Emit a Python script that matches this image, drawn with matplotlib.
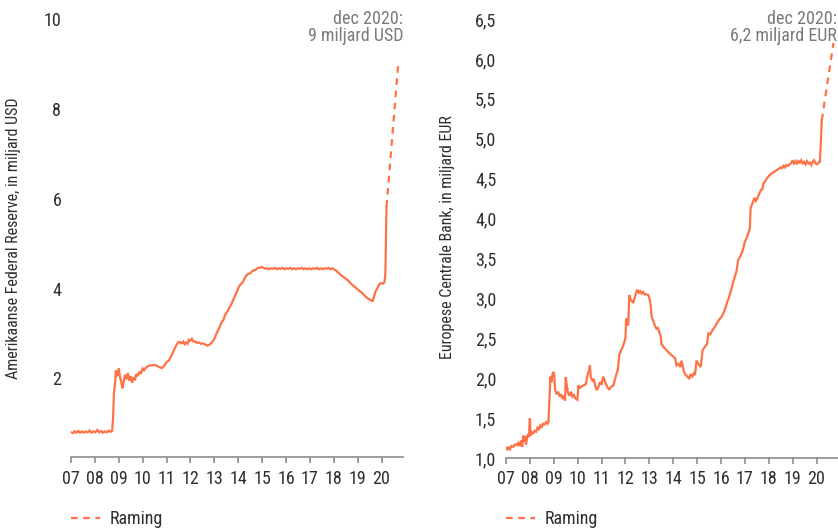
import matplotlib
matplotlib.use("Agg")
import matplotlib.pyplot as plt
from matplotlib.lines import Line2D

plt.rcParams['font.family'] = ['Roboto Condensed', 'Liberation Sans Narrow', 'Roboto', 'DejaVu Sans']

ORANGE = "#ff7245"
GREY = "#8c8c8c"
DARK = "#2e2e2e"

# Federal Reserve balance (miljard USD)
fed_t = [2007.00, 2007.08, 2007.15, 2007.22, 2007.30, 2007.38, 2007.46, 2007.54, 2007.62, 2007.70,
         2007.78, 2007.86, 2007.94, 2008.02, 2008.10, 2008.18, 2008.26, 2008.34, 2008.42, 2008.50,
         2008.58, 2008.66, 2008.72, 2008.76, 2008.80, 2008.84, 2008.88, 2008.92, 2008.96, 2009.00,
         2009.06, 2009.10, 2009.15, 2009.20, 2009.26, 2009.32, 2009.38, 2009.44, 2009.50, 2009.56,
         2009.62, 2009.68, 2009.74, 2009.80, 2009.86, 2009.92, 2010.00, 2010.06, 2010.14, 2010.22,
         2010.30, 2010.40, 2010.50, 2010.60, 2010.70, 2010.80, 2010.90, 2011.00, 2011.10, 2011.20,
         2011.30, 2011.40, 2011.48, 2011.56, 2011.62, 2011.70, 2011.76, 2011.82, 2011.88, 2011.94,
         2012.00, 2012.06, 2012.12, 2012.20, 2012.28, 2012.36, 2012.44, 2012.52, 2012.60, 2012.70,
         2012.80, 2012.90, 2013.00, 2013.08, 2013.16, 2013.24, 2013.30, 2013.38, 2013.44, 2013.52,
         2013.58, 2013.66, 2013.72, 2013.80, 2013.88, 2013.96, 2014.04, 2014.12, 2014.20, 2014.30,
         2014.40, 2014.50, 2014.58, 2014.66, 2014.74, 2014.82, 2014.90, 2014.98, 2015.06, 2015.14,
         2015.22, 2015.30, 2015.38, 2015.46, 2015.54, 2015.62, 2015.70, 2015.78, 2015.86, 2015.94,
         2016.02, 2016.10, 2016.18, 2016.26, 2016.34, 2016.42, 2016.50, 2016.58, 2016.66, 2016.74,
         2016.82, 2016.90, 2016.98, 2017.06, 2017.14, 2017.22, 2017.30, 2017.38, 2017.46, 2017.54,
         2017.62, 2017.70, 2017.78, 2017.86, 2017.94, 2018.00, 2018.10, 2018.20, 2018.30, 2018.40,
         2018.50, 2018.60, 2018.70, 2018.80, 2018.90, 2019.00, 2019.10, 2019.20, 2019.30, 2019.40,
         2019.50, 2019.60, 2019.64, 2019.70, 2019.76, 2019.82, 2019.88, 2019.94, 2020.00, 2020.06,
         2020.12, 2020.16, 2020.19, 2020.21]
fed_v = [0.80, 0.78, 0.82, 0.79, 0.83, 0.79, 0.82, 0.79, 0.82, 0.80,
         0.84, 0.79, 0.82, 0.80, 0.85, 0.80, 0.83, 0.79, 0.82, 0.80,
         0.84, 0.81, 0.83, 1.10, 1.70, 1.85, 2.18, 2.05, 2.10, 2.22,
         2.00, 1.95, 1.78, 1.90, 2.08, 1.98, 2.12, 1.95, 2.05, 1.90,
         2.02, 1.96, 2.10, 2.05, 2.15, 2.10, 2.22, 2.18, 2.24, 2.27,
         2.29, 2.29, 2.30, 2.28, 2.25, 2.23, 2.28, 2.36, 2.40, 2.50,
         2.62, 2.73, 2.80, 2.81, 2.78, 2.82, 2.76, 2.80, 2.77, 2.86,
         2.84, 2.88, 2.82, 2.82, 2.79, 2.80, 2.77, 2.78, 2.76, 2.73,
         2.75, 2.80, 2.88, 2.98, 3.08, 3.16, 3.25, 3.30, 3.40, 3.47,
         3.52, 3.60, 3.66, 3.76, 3.85, 3.95, 4.05, 4.10, 4.15, 4.26,
         4.32, 4.34, 4.38, 4.41, 4.42, 4.46, 4.46, 4.48, 4.46, 4.44,
         4.45, 4.43, 4.45, 4.44, 4.46, 4.43, 4.45, 4.44, 4.46, 4.43,
         4.45, 4.44, 4.46, 4.43, 4.45, 4.43, 4.45, 4.44, 4.46, 4.43,
         4.45, 4.43, 4.45, 4.43, 4.45, 4.44, 4.46, 4.43, 4.45, 4.43,
         4.45, 4.44, 4.46, 4.43, 4.45, 4.43, 4.40, 4.35, 4.30, 4.26,
         4.22, 4.18, 4.12, 4.07, 4.03, 3.98, 3.94, 3.90, 3.84, 3.79,
         3.76, 3.72, 3.73, 3.85, 3.95, 4.00, 4.07, 4.11, 4.12, 4.11,
         4.14, 4.30, 5.20, 5.82]
fed_fc_t = [2020.21, 2020.70]
fed_fc_v = [5.82, 9.0]

# ECB balance (miljard EUR)
ecb_t = [2007.00, 2007.05, 2007.10, 2007.16, 2007.22, 2007.30, 2007.38, 2007.46, 2007.52, 2007.58,
         2007.64, 2007.68, 2007.72, 2007.76, 2007.80, 2007.84, 2007.88, 2007.92, 2007.96, 2008.00,
         2008.03, 2008.08, 2008.14, 2008.20, 2008.26, 2008.32, 2008.38, 2008.44, 2008.50, 2008.56,
         2008.62, 2008.68, 2008.74, 2008.78, 2008.82, 2008.86, 2008.90, 2008.94, 2009.00, 2009.03,
         2009.06, 2009.12, 2009.18, 2009.24, 2009.30, 2009.36, 2009.42, 2009.47, 2009.50, 2009.55,
         2009.60, 2009.66, 2009.72, 2009.78, 2009.84, 2009.90, 2009.99, 2010.03, 2010.10, 2010.18,
         2010.26, 2010.35, 2010.42, 2010.48, 2010.51, 2010.55, 2010.62, 2010.68, 2010.72, 2010.79,
         2010.86, 2010.93, 2011.00, 2011.07, 2011.14, 2011.21, 2011.26, 2011.32, 2011.40, 2011.49,
         2011.56, 2011.63, 2011.68, 2011.74, 2011.82, 2011.91, 2012.00, 2012.03, 2012.08, 2012.12,
         2012.16, 2012.22, 2012.28, 2012.33, 2012.40, 2012.46, 2012.50, 2012.56, 2012.62, 2012.68,
         2012.74, 2012.80, 2012.88, 2012.96, 2013.02, 2013.06, 2013.10, 2013.16, 2013.23, 2013.30,
         2013.36, 2013.42, 2013.48, 2013.51, 2013.60, 2013.72, 2013.85, 2014.00, 2014.08, 2014.14,
         2014.22, 2014.30, 2014.35, 2014.40, 2014.45, 2014.52, 2014.60, 2014.67, 2014.72, 2014.80,
         2014.86, 2014.91, 2014.98, 2015.05, 2015.10, 2015.15, 2015.23, 2015.32, 2015.42, 2015.47,
         2015.55, 2015.64, 2015.74, 2015.85, 2015.94, 2016.03, 2016.14, 2016.24, 2016.34, 2016.42,
         2016.51, 2016.58, 2016.65, 2016.72, 2016.80, 2016.86, 2016.93, 2017.00, 2017.08, 2017.14,
         2017.21, 2017.24, 2017.32, 2017.40, 2017.46, 2017.52, 2017.60, 2017.68, 2017.74, 2017.77,
         2017.84, 2017.91, 2018.00, 2018.10, 2018.20, 2018.30, 2018.40, 2018.50, 2018.56, 2018.62,
         2018.68, 2018.74, 2018.81, 2018.88, 2018.95, 2019.00, 2019.06, 2019.12, 2019.18, 2019.24,
         2019.30, 2019.36, 2019.42, 2019.48, 2019.54, 2019.60, 2019.66, 2019.72, 2019.78, 2019.84,
         2019.90, 2019.96, 2020.02, 2020.08, 2020.14, 2020.19, 2020.22]
ecb_v = [1.13, 1.10, 1.14, 1.11, 1.15, 1.14, 1.17, 1.16, 1.19, 1.15,
         1.22, 1.14, 1.28, 1.20, 1.27, 1.17, 1.25, 1.30, 1.26, 1.50,
         1.28, 1.32, 1.31, 1.34, 1.33, 1.38, 1.36, 1.41, 1.39, 1.43,
         1.42, 1.45, 1.43, 1.46, 1.75, 2.02, 1.95, 2.04, 2.08, 1.98,
         1.85, 1.80, 1.83, 1.77, 1.80, 1.74, 1.78, 1.72, 2.01, 1.90,
         1.81, 1.78, 1.83, 1.77, 1.79, 1.75, 1.73, 1.91, 1.88, 1.90,
         1.91, 1.93, 2.05, 2.10, 2.16, 2.01, 1.97, 1.99, 1.93, 1.85,
         1.88, 1.95, 1.92, 2.02, 1.96, 1.91, 1.88, 1.86, 1.89, 1.91,
         1.98, 2.06, 2.10, 2.29, 2.35, 2.41, 2.50, 2.75, 2.70, 2.66,
         3.04, 2.98, 2.96, 2.95, 3.02, 3.08, 3.11, 3.07, 3.09, 3.06,
         3.08, 3.05, 3.05, 3.04, 2.98, 2.90, 2.77, 2.72, 2.66, 2.62,
         2.63, 2.58, 2.52, 2.43, 2.39, 2.35, 2.31, 2.27, 2.25, 2.16,
         2.18, 2.14, 2.22, 2.15, 2.08, 2.04, 2.02, 1.99, 2.05, 2.02,
         2.06, 2.04, 2.22, 2.18, 2.16, 2.14, 2.35, 2.39, 2.43, 2.56,
         2.55, 2.60, 2.64, 2.70, 2.74, 2.77, 2.84, 2.93, 3.02, 3.10,
         3.20, 3.27, 3.34, 3.48, 3.52, 3.56, 3.62, 3.71, 3.76, 3.81,
         3.88, 4.13, 4.19, 4.26, 4.22, 4.25, 4.31, 4.36, 4.37, 4.44,
         4.46, 4.50, 4.53, 4.56, 4.58, 4.60, 4.62, 4.64, 4.63, 4.66,
         4.64, 4.67, 4.66, 4.68, 4.70, 4.73, 4.69, 4.72, 4.68, 4.72,
         4.70, 4.73, 4.69, 4.71, 4.68, 4.72, 4.69, 4.70, 4.67, 4.71,
         4.73, 4.69, 4.68, 4.70, 4.71, 5.00, 5.23]
ecb_fc_t = [2020.22, 2020.71]
ecb_fc_v = [5.23, 6.2]

year_ticks = list(range(2007, 2021))
year_labels = [f"{y % 100:02d}" for y in year_ticks]
fed_yticks = [2, 4, 6, 8, 10]
ecb_yticks = [1.0, 1.5, 2.0, 2.5, 3.0, 3.5, 4.0, 4.5, 5.0, 5.5, 6.0, 6.5]

FS = 13
fig = plt.figure(figsize=(8.38, 5.29), dpi=100)
ax1 = fig.add_axes([71 / 838, 1 - 457 / 529, 332 / 838, 438 / 529])
ax2 = fig.add_axes([506 / 838, 1 - 458 / 529, 332 / 838, 439 / 529])

panels = [
    (ax1, fed_t, fed_v, fed_fc_t, fed_fc_v, (0.25, 10), fed_yticks,
     [str(v) for v in fed_yticks]),
    (ax2, ecb_t, ecb_v, ecb_fc_t, ecb_fc_v, (1.0, 6.5), ecb_yticks,
     [f"{v:.1f}".replace(".", ",") for v in ecb_yticks]),
]

for ax, t, v, ft, fv, ylim, yt, ylab in panels:
    ax.plot(t, v, color=ORANGE, lw=1.6, solid_joinstyle="miter")
    ax.plot(ft, fv, color=ORANGE, lw=1.6, dashes=(3, 2.5))
    ax.set_xlim(2007, 2020.9)
    ax.set_ylim(*ylim)
    ax.set_xticks(year_ticks)
    ax.set_xticklabels(year_labels)
    ax.set_yticks(yt)
    ax.set_yticklabels(ylab)
    for s in ["top", "right", "left"]:
        ax.spines[s].set_visible(False)
    ax.spines["bottom"].set_color(GREY)
    ax.spines["bottom"].set_linewidth(1.2)
    ax.tick_params(axis="x", colors=GREY, length=4, width=1.2, pad=5,
                   labelsize=FS, labelcolor=DARK)
    ax.tick_params(axis="y", length=0, pad=7, labelsize=FS, labelcolor=DARK)
    ax.patch.set_visible(False)

fig.text(14 / 838, 1 - 238 / 529, "Amerikaanse Federal Reserve, in miljard USD",
         rotation=90, ha="center", va="center", fontsize=11.5, color=DARK)
fig.text(447 / 838, 1 - 237 / 529, "Europese Centrale Bank, in miljard EUR",
         rotation=90, ha="center", va="center", fontsize=11.5, color=DARK)

fig.text(403 / 838, 1 - 10 / 529, "dec 2020:\n9 miljard USD", ha="right", va="top",
         fontsize=FS, color="#7a7a7a", linespacing=0.92)
fig.text(837 / 838, 1 - 10 / 529, "dec 2020:\n6,2 miljard EUR", ha="right", va="top",
         fontsize=FS, color="#7a7a7a", linespacing=0.92)

# legend for the forecast line under each panel
for ax, x0 in [(ax1, 71), (ax2, 506)]:
    h = Line2D([], [], color=ORANGE, lw=1.6, dashes=(3, 2.5))
    ax.legend(handles=[h], labels=["Raming"], loc="center left",
              bbox_to_anchor=(x0 / 838, 1 - 519 / 529), bbox_transform=fig.transFigure,
              frameon=False, fontsize=FS, handlelength=1.6, handletextpad=0.55,
              borderpad=0, borderaxespad=0, labelcolor=DARK)

fig.savefig("out.png", dpi=100)
